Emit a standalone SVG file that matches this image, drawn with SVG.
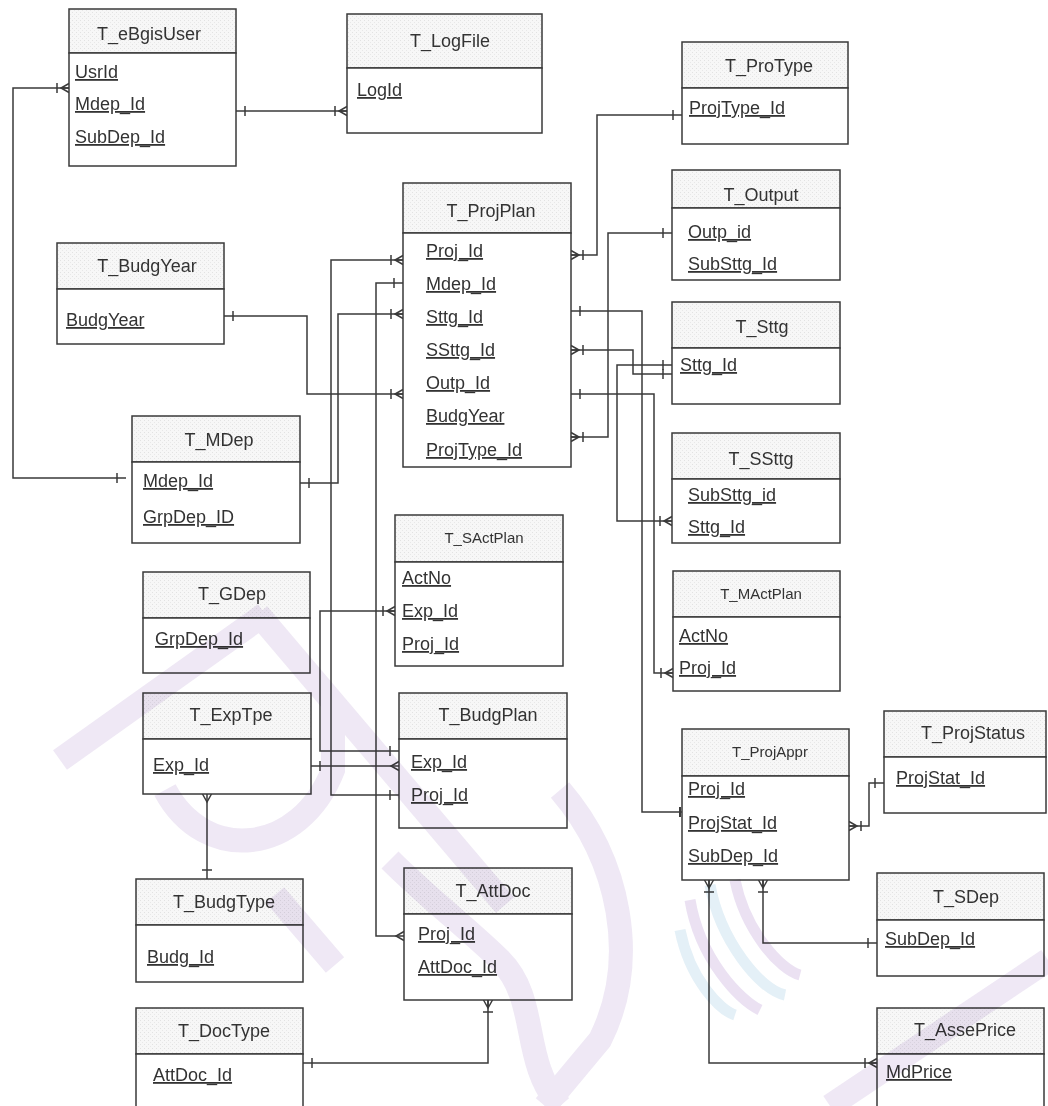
<svg xmlns="http://www.w3.org/2000/svg" width="1048" height="1106" viewBox="0 0 1048 1106">
<defs>
<pattern id="dots" width="4" height="4" patternUnits="userSpaceOnUse">
<rect width="4" height="4" fill="#f7f7f7"/>
<rect x="0" y="0" width="1" height="1" fill="#e2e2e2"/>
<rect x="2" y="2" width="1" height="1" fill="#e8e8e8"/>
</pattern>
<marker id="one" markerUnits="userSpaceOnUse" markerWidth="20" markerHeight="20" orient="auto-start-reverse" overflow="visible" refX="0" refY="0">
<path d="M-9,-5 V5" fill="none" stroke="#3a3a3a" stroke-width="1.5"/>
</marker>
<marker id="edge" markerUnits="userSpaceOnUse" markerWidth="20" markerHeight="20" orient="auto-start-reverse" overflow="visible" refX="0" refY="0">
<path d="M-2,-5 V5" fill="none" stroke="#3a3a3a" stroke-width="2"/>
</marker>
<marker id="many" markerUnits="userSpaceOnUse" markerWidth="20" markerHeight="20" orient="auto-start-reverse" overflow="visible" refX="0" refY="0">
<path d="M0,-4.5 L-8,0 L0,4.5 M-8,0 H0 M-12,-5 V5" fill="none" stroke="#3a3a3a" stroke-width="1.5"/>
</marker>
<marker id="crow" markerUnits="userSpaceOnUse" markerWidth="20" markerHeight="20" orient="auto-start-reverse" overflow="visible" refX="0" refY="0">
<path d="M0,-4.5 L-8,0 L0,4.5" fill="none" stroke="#3a3a3a" stroke-width="1.5"/>
</marker>
</defs>
<style>
.hdr{fill:url(#dots);stroke:#3a3a3a;stroke-width:1.5}
.body{fill:#ffffff;stroke:#3a3a3a;stroke-width:1.5}
.ttl{font-family:"Liberation Sans",Arial,sans-serif;font-size:18px;fill:#333;text-anchor:middle}
.sm{font-size:15px}
.fld{font-family:"Liberation Sans",Arial,sans-serif;font-size:18px;fill:#333;text-decoration:underline}
.ln{fill:none;stroke:#3a3a3a;stroke-width:1.5}
.wm{fill:none;stroke:#e4d9ee;stroke-width:24}
</style>
<rect width="1048" height="1106" fill="#ffffff"/>

<g id="connectors">
<path class="ln" d="M236,111 H347" marker-start="url(#one)" marker-end="url(#many)"/>
<path class="ln" d="M69,88 H13 V478 H126" marker-start="url(#many)" marker-end="url(#one)"/>
<path class="ln" d="M224,316 H307 V394 H403" marker-start="url(#one)" marker-end="url(#many)"/>
<path class="ln" d="M403,260 H331 V795 H399" marker-start="url(#many)" marker-end="url(#one)"/>
<path class="ln" d="M403,283 H376 V936 H404" marker-start="url(#one)" marker-end="url(#crow)"/>
<path class="ln" d="M403,314 H338 V483 H300" marker-start="url(#many)" marker-end="url(#one)"/>
<path class="ln" d="M395,611 H320 V751 H399" marker-start="url(#many)" marker-end="url(#one)"/>
<path class="ln" d="M311,766 H399" marker-start="url(#one)" marker-end="url(#crow)"/>
<path class="ln" d="M207,794 V879" marker-start="url(#crow)" marker-end="url(#one)"/>
<path class="ln" d="M303,1063 H488 V1000" marker-start="url(#one)" marker-end="url(#many)"/>
<path class="ln" d="M571,255 H597 V115 H682" marker-start="url(#many)" marker-end="url(#one)"/>
<path class="ln" d="M571,437 H608 V233 H672" marker-start="url(#many)" marker-end="url(#one)"/>
<path class="ln" d="M571,311 H642 V812 H682" marker-start="url(#one)" marker-end="url(#edge)"/>
<path class="ln" d="M571,350 H633 V374 H672" marker-start="url(#many)" marker-end="url(#one)"/>
<path class="ln" d="M672,365 H617 V521 H672" marker-start="url(#one)" marker-end="url(#many)"/>
<path class="ln" d="M571,394 H654 V673 H673" marker-start="url(#one)" marker-end="url(#many)"/>
<path class="ln" d="M849,826 H869 V783 H884" marker-start="url(#many)" marker-end="url(#one)"/>
<path class="ln" d="M763,880 V943 H877" marker-start="url(#many)" marker-end="url(#one)"/>
<path class="ln" d="M709,880 V1063 H877" marker-start="url(#many)" marker-end="url(#many)"/>
</g>

<g id="T_eBgisUser">
<rect class="hdr" x="69" y="9" width="167" height="44"/>
<rect class="body" x="69" y="53" width="167" height="113"/>
<text class="ttl" x="149" y="40">T_eBgisUser</text>
<text class="fld" x="75" y="78">UsrId</text>
<text class="fld" x="75" y="110">Mdep_Id</text>
<text class="fld" x="75" y="143">SubDep_Id</text>
</g>
<g id="T_LogFile">
<rect class="hdr" x="347" y="14" width="195" height="54"/>
<rect class="body" x="347" y="68" width="195" height="65"/>
<text class="ttl" x="450" y="47">T_LogFile</text>
<text class="fld" x="357" y="96">LogId</text>
</g>
<g id="T_ProType">
<rect class="hdr" x="682" y="42" width="166" height="46"/>
<rect class="body" x="682" y="88" width="166" height="56"/>
<text class="ttl" x="769" y="72">T_ProType</text>
<text class="fld" x="689" y="114">ProjType_Id</text>
</g>
<g id="T_ProjPlan">
<rect class="hdr" x="403" y="183" width="168" height="50"/>
<rect class="body" x="403" y="233" width="168" height="234"/>
<text class="ttl" x="491" y="217">T_ProjPlan</text>
<text class="fld" x="426" y="257">Proj_Id</text>
<text class="fld" x="426" y="290">Mdep_Id</text>
<text class="fld" x="426" y="323">Sttg_Id</text>
<text class="fld" x="426" y="356">SSttg_Id</text>
<text class="fld" x="426" y="389">Outp_Id</text>
<text class="fld" x="426" y="422">BudgYear</text>
<text class="fld" x="426" y="456">ProjType_Id</text>
</g>
<g id="T_Output">
<rect class="hdr" x="672" y="170" width="168" height="38"/>
<rect class="body" x="672" y="208" width="168" height="72"/>
<text class="ttl" x="761" y="201">T_Output</text>
<text class="fld" x="688" y="238">Outp_id</text>
<text class="fld" x="688" y="270">SubSttg_Id</text>
</g>
<g id="T_Sttg">
<rect class="hdr" x="672" y="302" width="168" height="46"/>
<rect class="body" x="672" y="348" width="168" height="56"/>
<text class="ttl" x="762" y="333">T_Sttg</text>
<text class="fld" x="680" y="371">Sttg_Id</text>
</g>
<g id="T_SSttg">
<rect class="hdr" x="672" y="433" width="168" height="46"/>
<rect class="body" x="672" y="479" width="168" height="64"/>
<text class="ttl" x="761" y="465">T_SSttg</text>
<text class="fld" x="688" y="501">SubSttg_id</text>
<text class="fld" x="688" y="533">Sttg_Id</text>
</g>
<g id="T_MActPlan">
<rect class="hdr" x="673" y="571" width="167" height="46"/>
<rect class="body" x="673" y="617" width="167" height="74"/>
<text class="ttl sm" x="761" y="599">T_MActPlan</text>
<text class="fld" x="679" y="642">ActNo</text>
<text class="fld" x="679" y="674">Proj_Id</text>
</g>
<g id="T_SActPlan">
<rect class="hdr" x="395" y="515" width="168" height="47"/>
<rect class="body" x="395" y="562" width="168" height="104"/>
<text class="ttl sm" x="484" y="543">T_SActPlan</text>
<text class="fld" x="402" y="584">ActNo</text>
<text class="fld" x="402" y="617">Exp_Id</text>
<text class="fld" x="402" y="650">Proj_Id</text>
</g>
<g id="T_BudgYear">
<rect class="hdr" x="57" y="243" width="167" height="46"/>
<rect class="body" x="57" y="289" width="167" height="55"/>
<text class="ttl" x="147" y="272">T_BudgYear</text>
<text class="fld" x="66" y="326">BudgYear</text>
</g>
<g id="T_MDep">
<rect class="hdr" x="132" y="416" width="168" height="46"/>
<rect class="body" x="132" y="462" width="168" height="81"/>
<text class="ttl" x="219" y="446">T_MDep</text>
<text class="fld" x="143" y="487">Mdep_Id</text>
<text class="fld" x="143" y="523">GrpDep_ID</text>
</g>
<g id="T_GDep">
<rect class="hdr" x="143" y="572" width="167" height="46"/>
<rect class="body" x="143" y="618" width="167" height="55"/>
<text class="ttl" x="232" y="600">T_GDep</text>
<text class="fld" x="155" y="645">GrpDep_Id</text>
</g>
<g id="T_ExpTpe">
<rect class="hdr" x="143" y="693" width="168" height="46"/>
<rect class="body" x="143" y="739" width="168" height="55"/>
<text class="ttl" x="231" y="721">T_ExpTpe</text>
<text class="fld" x="153" y="771">Exp_Id</text>
</g>
<g id="T_BudgPlan">
<rect class="hdr" x="399" y="693" width="168" height="46"/>
<rect class="body" x="399" y="739" width="168" height="89"/>
<text class="ttl" x="488" y="721">T_BudgPlan</text>
<text class="fld" x="411" y="768">Exp_Id</text>
<text class="fld" x="411" y="801">Proj_Id</text>
</g>
<g id="T_BudgType">
<rect class="hdr" x="136" y="879" width="167" height="46"/>
<rect class="body" x="136" y="925" width="167" height="57"/>
<text class="ttl" x="224" y="908">T_BudgType</text>
<text class="fld" x="147" y="963">Budg_Id</text>
</g>
<g id="T_AttDoc">
<rect class="hdr" x="404" y="868" width="168" height="46"/>
<rect class="body" x="404" y="914" width="168" height="86"/>
<text class="ttl" x="493" y="897">T_AttDoc</text>
<text class="fld" x="418" y="940">Proj_Id</text>
<text class="fld" x="418" y="973">AttDoc_Id</text>
</g>
<g id="T_DocType">
<rect class="hdr" x="136" y="1008" width="167" height="46"/>
<rect class="body" x="136" y="1054" width="167" height="70"/>
<text class="ttl" x="224" y="1037">T_DocType</text>
<text class="fld" x="153" y="1081">AttDoc_Id</text>
</g>
<g id="T_ProjAppr">
<rect class="hdr" x="682" y="729" width="167" height="47"/>
<rect class="body" x="682" y="776" width="167" height="104"/>
<text class="ttl sm" x="770" y="757">T_ProjAppr</text>
<text class="fld" x="688" y="795">Proj_Id</text>
<text class="fld" x="688" y="829">ProjStat_Id</text>
<text class="fld" x="688" y="862">SubDep_Id</text>
</g>
<g id="T_ProjStatus">
<rect class="hdr" x="884" y="711" width="162" height="46"/>
<rect class="body" x="884" y="757" width="162" height="56"/>
<text class="ttl" x="973" y="739">T_ProjStatus</text>
<text class="fld" x="896" y="784">ProjStat_Id</text>
</g>
<g id="T_SDep">
<rect class="hdr" x="877" y="873" width="167" height="47"/>
<rect class="body" x="877" y="920" width="167" height="56"/>
<text class="ttl" x="966" y="903">T_SDep</text>
<text class="fld" x="885" y="945">SubDep_Id</text>
</g>
<g id="T_AssePrice">
<rect class="hdr" x="877" y="1008" width="167" height="46"/>
<rect class="body" x="877" y="1054" width="167" height="70"/>
<text class="ttl" x="965" y="1036">T_AssePrice</text>
<text class="fld" x="886" y="1078">MdPrice</text>
</g>

<g id="watermark" style="mix-blend-mode:multiply" opacity="0.6">
<path class="wm" d="M60,760 L265,614"/>
<path class="wm" d="M258,614 L505,905"/>
<path class="wm" d="M165,790 C205,865 300,855 333,770 L333,700"/>
<path class="wm" d="M275,895 L335,965"/>
<path class="wm" d="M390,860 C430,900 470,930 500,960 C540,1000 520,1060 560,1106"/>
<path class="wm" d="M560,790 C620,860 640,960 600,1040 L545,1106"/>
<path class="wm" d="M830,1106 L1048,960"/>
<g fill="none" stroke-width="11">
<path d="M690,900 C700,960 740,1000 760,1010" stroke="#ddcdea"/>
<path d="M710,885 C720,940 760,990 785,995" stroke="#d2e6f1"/>
<path d="M735,880 C745,930 780,970 800,975" stroke="#ddcdea"/>
<path d="M680,930 C690,980 720,1010 735,1015" stroke="#d2e6f1"/>
</g>
</g>
</svg>
